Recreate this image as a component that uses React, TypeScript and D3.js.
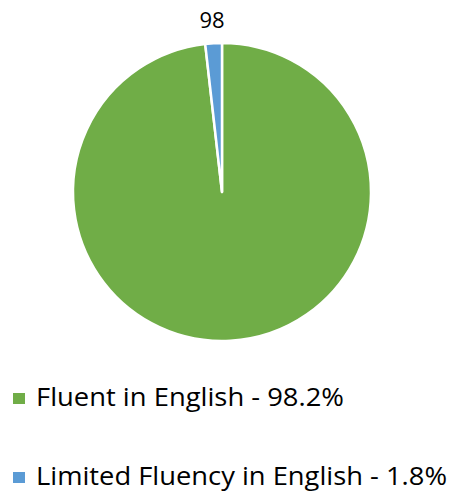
import { useEffect, useRef } from 'react'
import * as d3 from 'd3'

const categories = ['Fluent in English', 'Limited Fluency in English']
const shares = [98.2, 1.8]
const legendLabels = ['Fluent in English - 98.2%', 'Limited Fluency in English - 1.8%']
const legendWidths = [308, 411]
const topLabel = '98'
const colors = ['#70AD47', '#5B9BD5']

const App = () => {
  const width = 455
  const height = 495
  const cx = 222
  const cy = 192
  const radius = 149

  const svgRef = useRef<SVGSVGElement>(null)

  useEffect(() => {
    const svg = d3.select(svgRef.current)
    svg.selectAll('*').remove()

    const data = categories.map((c, i) => ({ name: c, value: shares[i] }))

    const pie = d3.pie<any>()
      .sort(null)
      .value(d => d.value)

    const arc = d3.arc<any>()
      .innerRadius(0)
      .outerRadius(radius)

    const g = svg.append('g')
      .attr('transform', `translate(${cx},${cy})`)

    g.selectAll('path')
      .data(pie(data))
      .enter()
      .append('path')
      .attr('d', arc)
      .attr('fill', (d, i) => colors[i])
      .attr('stroke', '#fff')
      .attr('stroke-width', 2.5)
      .attr('stroke-linejoin', 'round')

    svg.append('text')
      .attr('x', 212)
      .attr('y', 28)
      .attr('text-anchor', 'middle')
      .style('font-family', '"Open Sans", sans-serif')
      .style('font-size', '22px')
      .style('fill', '#000')
      .text(topLabel)

    // legend
    const rows = [406, 485]
    legendLabels.forEach((label, i) => {
      svg.append('rect')
        .attr('x', 13)
        .attr('y', rows[i] - 13)
        .attr('width', 12)
        .attr('height', 11)
        .attr('fill', colors[i])

      svg.append('text')
        .attr('x', 36)
        .attr('y', rows[i])
        .attr('textLength', legendWidths[i])
        .attr('lengthAdjust', 'spacingAndGlyphs')
        .style('font-family', '"Open Sans", sans-serif')
        .style('font-size', '26px')
        .style('fill', '#000')
        .text(label)
    })
  }, [])

  return (
    <svg ref={svgRef} width={width} height={height} style={{ position: 'absolute', left: 0, top: 0 }}></svg>
  )
}

export default App
